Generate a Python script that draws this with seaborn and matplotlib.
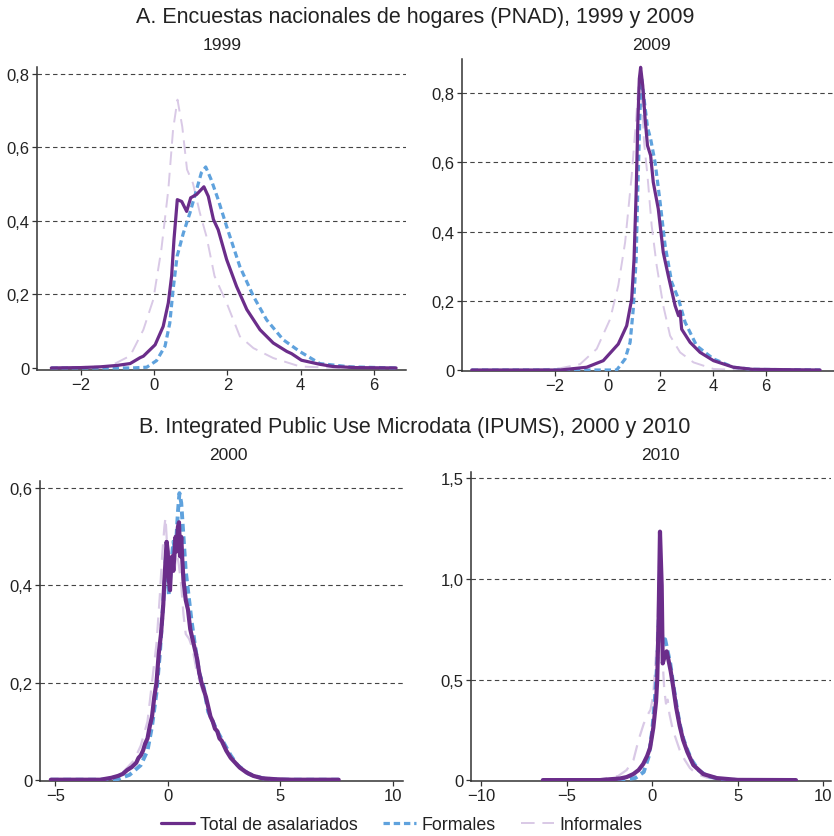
import numpy as np
import pandas as pd
import seaborn as sns
import matplotlib
matplotlib.use("Agg")
import matplotlib.pyplot as plt
from matplotlib.ticker import FuncFormatter
from matplotlib.lines import Line2D

# ---------------- DATA ----------------
series_names = ["Total de asalariados", "Formales", "Informales"]

# Panel A 1999
a99_total_x = [-2.8, -2.0, -1.47, -1.0, -0.65, -0.38, -0.29, 0.03, 0.25, 0.39, 0.48, 0.545, 0.635, 0.755, 0.89, 1.0, 1.16, 1.36, 1.48, 1.62, 1.75, 1.98, 2.25, 2.53, 2.89, 3.25, 3.62, 3.75, 4.02, 4.52, 4.88, 5.5, 6.6]
a99_total_y = [0.0, 0.001, 0.003, 0.007, 0.012, 0.028, 0.032, 0.063, 0.113, 0.177, 0.25, 0.35, 0.458, 0.453, 0.426, 0.463, 0.472, 0.493, 0.467, 0.404, 0.376, 0.295, 0.222, 0.159, 0.104, 0.068, 0.045, 0.039, 0.021, 0.01, 0.004, 0.001, 0.0]
a99_form_x = [-2.8, -1.5, -0.6, -0.2, 0.07, 0.3, 0.43, 0.52, 0.63, 0.8, 0.98, 1.16, 1.29, 1.41, 1.56, 1.75, 1.98, 2.34, 2.71, 3.07, 3.52, 3.97, 4.52, 5.34, 6.6]
a99_form_y = [0.0, 0.0, 0.0, 0.002, 0.02, 0.059, 0.122, 0.213, 0.304, 0.367, 0.422, 0.485, 0.531, 0.547, 0.512, 0.458, 0.385, 0.276, 0.195, 0.131, 0.077, 0.045, 0.012, 0.003, 0.0]
a99_inf_x = [-2.8, -1.2, -0.65, -0.29, -0.02, 0.2, 0.39, 0.52, 0.64, 0.77, 0.9, 1.06, 1.25, 1.43, 1.65, 1.98, 2.34, 2.71, 3.25, 3.98, 5.0, 6.6]
a99_inf_y = [0.0, 0.005, 0.033, 0.104, 0.186, 0.322, 0.485, 0.649, 0.73, 0.657, 0.54, 0.503, 0.422, 0.358, 0.25, 0.177, 0.086, 0.054, 0.027, 0.004, 0.0, 0.0]

# Panel A 2009
a09_total_x = [-5.17, -3.0, -1.81, -0.8, -0.17, 0.4, 0.72, 0.91, 1.0, 1.08, 1.14, 1.2, 1.25, 1.33, 1.42, 1.51, 1.63, 1.73, 1.92, 2.11, 2.3, 2.56, 2.69, 2.75, 2.81, 3.13, 3.51, 4.02, 4.78, 5.5, 8.07]
a09_total_y = [0.0, 0.0, 0.0, 0.008, 0.027, 0.075, 0.128, 0.205, 0.321, 0.514, 0.707, 0.841, 0.875, 0.822, 0.726, 0.649, 0.62, 0.543, 0.466, 0.34, 0.273, 0.186, 0.157, 0.17, 0.118, 0.08, 0.051, 0.027, 0.008, 0.002, 0.0]
a09_form_x = [-5.17, -1.0, 0.34, 0.66, 0.85, 0.97, 1.08, 1.14, 1.23, 1.29, 1.38, 1.51, 1.63, 1.8, 1.99, 2.18, 2.43, 2.69, 2.94, 3.38, 4.02, 4.78, 5.5, 8.07]
a09_form_y = [0.0, 0.0, 0.0, 0.032, 0.08, 0.176, 0.321, 0.514, 0.755, 0.841, 0.784, 0.702, 0.668, 0.6, 0.485, 0.36, 0.254, 0.205, 0.138, 0.07, 0.032, 0.008, 0.002, 0.0]
a09_inf_x = [-5.17, -3.0, -1.81, -1.05, -0.42, 0.09, 0.4, 0.66, 0.91, 1.08, 1.19, 1.29, 1.38, 1.51, 1.67, 1.86, 2.11, 2.37, 2.75, 3.26, 4.02, 5.0, 8.07]
a09_inf_y = [0.0, 0.0, 0.005, 0.017, 0.061, 0.147, 0.244, 0.369, 0.562, 0.726, 0.851, 0.793, 0.658, 0.562, 0.417, 0.302, 0.186, 0.099, 0.051, 0.022, 0.003, 0.0, 0.0]

# Panel B 2000
b00_total_x = [-5.2, -3.0, -2.5, -2.2, -2.0, -1.8, -1.6, -1.4, -1.3, -1.2, -1.1, -1.0, -0.9, -0.8, -0.7, -0.6, -0.5, -0.4, -0.3, -0.2, -0.15, -0.1, -0.05, 0.0, 0.05, 0.1, 0.15, 0.2, 0.25, 0.3, 0.35, 0.4, 0.45, 0.5, 0.55, 0.6, 0.65, 0.7, 0.8, 0.9, 1.0, 1.1, 1.2, 1.3, 1.4, 1.5, 1.6, 1.7, 1.8, 1.9, 2.0, 2.1, 2.2, 2.3, 2.4, 2.5, 2.6, 2.8, 3.0, 3.2, 3.5, 3.8, 4.2, 4.8, 5.5, 7.6]
b00_total_y = [0.0, 0.0, 0.004, 0.008, 0.012, 0.02, 0.026, 0.035, 0.045, 0.05, 0.06, 0.075, 0.085, 0.11, 0.13, 0.17, 0.2, 0.26, 0.3, 0.36, 0.41, 0.45, 0.49, 0.47, 0.41, 0.39, 0.44, 0.46, 0.43, 0.47, 0.5, 0.47, 0.52, 0.53, 0.46, 0.5, 0.45, 0.41, 0.37, 0.35, 0.31, 0.29, 0.27, 0.25, 0.22, 0.2, 0.185, 0.17, 0.15, 0.13, 0.12, 0.105, 0.1, 0.085, 0.08, 0.07, 0.06, 0.045, 0.035, 0.025, 0.015, 0.008, 0.003, 0.001, 0.0, 0.0]
b00_form_x = [-5.2, -2.3, -1.7, -1.2, -0.9, -0.7, -0.5, -0.35, -0.25, -0.15, -0.08, 0.0, 0.05, 0.15, 0.25, 0.35, 0.45, 0.52, 0.6, 0.7, 0.8, 0.9, 1.05, 1.2, 1.4, 1.6, 1.8, 2.0, 2.2, 2.5, 2.8, 3.1, 3.6, 4.2, 5.0, 7.6]
b00_form_y = [0.0, 0.0, 0.01, 0.03, 0.06, 0.11, 0.18, 0.26, 0.33, 0.4, 0.46, 0.42, 0.38, 0.44, 0.49, 0.47, 0.55, 0.59, 0.57, 0.5, 0.43, 0.39, 0.33, 0.28, 0.22, 0.19, 0.14, 0.12, 0.1, 0.075, 0.05, 0.03, 0.012, 0.003, 0.0, 0.0]
b00_inf_x = [-5.2, -3.0, -2.5, -2.0, -1.5, -1.2, -0.9, -0.7, -0.5, -0.35, -0.25, -0.15, -0.1, -0.05, 0.0, 0.1, 0.2, 0.3, 0.4, 0.5, 0.6, 0.7, 0.8, 0.95, 1.1, 1.3, 1.5, 1.7, 1.9, 2.2, 2.5, 2.8, 3.2, 3.7, 4.5, 7.6]
b00_inf_y = [0.0, 0.0, 0.005, 0.015, 0.04, 0.07, 0.12, 0.2, 0.28, 0.38, 0.46, 0.52, 0.54, 0.5, 0.44, 0.41, 0.46, 0.43, 0.47, 0.44, 0.4, 0.34, 0.3, 0.29, 0.27, 0.22, 0.19, 0.16, 0.13, 0.1, 0.07, 0.045, 0.025, 0.01, 0.002, 0.0]

# Panel B 2010
b10_total_x = [-6.4, -3.06, -2.5, -1.89, -1.5, -1.11, -0.8, -0.53, -0.3, -0.13, 0.06, 0.22, 0.29, 0.37, 0.45, 0.55, 0.61, 0.74, 0.84, 0.94, 1.08, 1.23, 1.4, 1.6, 1.8, 2.05, 2.4, 2.98, 3.77, 5.0, 8.4]
b10_total_y = [0.0, 0.0, 0.004, 0.008, 0.015, 0.03, 0.05, 0.08, 0.12, 0.16, 0.26, 0.39, 0.5, 0.8, 1.235, 0.967, 0.58, 0.62, 0.64, 0.6, 0.54, 0.46, 0.36, 0.27, 0.2, 0.14, 0.075, 0.03, 0.01, 0.001, 0.0]
b10_form_x = [-6.4, -2.0, -1.0, -0.5, -0.2, 0.0, 0.15, 0.3, 0.4, 0.45, 0.5, 0.6, 0.75, 0.9, 1.05, 1.2, 1.4, 1.6, 1.8, 2.0, 2.3, 2.7, 3.2, 4.0, 5.0, 8.4]
b10_form_y = [0.0, 0.0, 0.01, 0.04, 0.12, 0.25, 0.4, 0.6, 0.85, 1.05, 0.85, 0.68, 0.7, 0.64, 0.58, 0.49, 0.38, 0.28, 0.21, 0.16, 0.1, 0.05, 0.02, 0.006, 0.0, 0.0]
b10_inf_x = [-6.4, -3.0, -2.0, -1.5, -1.1, -0.8, -0.5, -0.3, -0.1, 0.05, 0.2, 0.3, 0.4, 0.5, 0.6, 0.7, 0.8, 0.9, 1.0, 1.2, 1.4, 1.6, 1.9, 2.2, 2.6, 3.2, 4.0, 8.4]
b10_inf_y = [0.0, 0.005, 0.02, 0.05, 0.1, 0.2, 0.28, 0.32, 0.35, 0.42, 0.6, 0.75, 1.1, 0.8, 0.6, 0.45, 0.38, 0.4, 0.33, 0.25, 0.2, 0.15, 0.1, 0.06, 0.03, 0.012, 0.003, 0.0]

panel_titles = ["1999", "2009", "2000", "2010"]
title_a = "A. Encuestas nacionales de hogares (PNAD), 1999 y 2009"
title_b = "B. Integrated Public Use Microdata (IPUMS), 2000 y 2010"

a99_xticks = [-2, 0, 2, 4, 6]
a09_xticks = [-2, 0, 2, 4, 6]
b00_xticks = [-5, 0, 5, 10]
b10_xticks = [-10, -5, 0, 5, 10]
a_yticks = [0, 0.2, 0.4, 0.6, 0.8]
b00_yticks = [0, 0.2, 0.4, 0.6]
b10_yticks = [0, 0.5, 1.0, 1.5]

# ---------------- STYLE ----------------
sns.set_theme(style="white")
plt.rcParams["font.family"] = ["Liberation Sans", "DejaVu Sans"]
plt.rcParams["axes.unicode_minus"] = True

C_TOTAL = "#6B2D8A"
C_FORM = "#5FA2DD"
C_INF = "#D9C9E6"
styles = {
    "Total de asalariados": dict(color=C_TOTAL, linewidth=2.3, linestyle="-", zorder=4),
    "Formales": dict(color=C_FORM, linewidth=2.3, linestyle=(0, (2.0, 1.2)), zorder=3),
    "Informales": dict(color=C_INF, linewidth=1.4, linestyle=(0, (7, 4)), zorder=2),
}
b_widths = {"Total de asalariados": 3.0, "Formales": 2.8, "Informales": 1.6}

W, H = 834, 837
fig = plt.figure(figsize=(W / 100, H / 100), dpi=100)


def add_ax(left, right, top, bottom):
    return fig.add_axes([left / W, 1 - bottom / H, (right - left) / W, (bottom - top) / H])


def yfmt(v, pos):
    if abs(v) < 1e-9:
        return "0"
    return f"{v:.1f}".replace(".", ",")


def xfmt(v, pos):
    return f"{int(round(v))}".replace("-", "\u2212")


panels = [
    (add_ax(37, 406, 67.6, 370.8), (-3.19, 6.87), (-0.005, 0.82), a99_xticks, a_yticks,
     [(a99_total_x, a99_total_y), (a99_form_x, a99_form_y), (a99_inf_x, a99_inf_y)], False),
    (add_ax(462, 834, 60, 371.7), (-5.54, 8.6), (-0.002, 0.899), a09_xticks, a_yticks,
     [(a09_total_x, a09_total_y), (a09_form_x, a09_form_y), (a09_inf_x, a09_inf_y)], False),
    (add_ax(40, 403, 482, 781.7), (-5.68, 10.46), (-0.002, 0.615), b00_xticks, b00_yticks,
     [(b00_total_x, b00_total_y), (b00_form_x, b00_form_y), (b00_inf_x, b00_inf_y)], True),
    (add_ax(471, 831, 472.7, 781.7), (-10.6, 10.45), (-0.003, 1.533), b10_xticks, b10_yticks,
     [(b10_total_x, b10_total_y), (b10_form_x, b10_form_y), (b10_inf_x, b10_inf_y)], True),
]

for ax, xl, yl, xt, yt, curves, is_b in panels:
    for name, (xs, ys) in reversed(list(zip(series_names, curves))):
        df = pd.DataFrame({"x": xs, "y": ys})
        kw = dict(styles[name])
        if is_b:
            kw["linewidth"] = b_widths[name]
        sns.lineplot(data=df, x="x", y="y", ax=ax, estimator=None, sort=False,
                     label=name, legend=False, **kw)
    ax.set_xlim(*xl)
    ax.set_ylim(*yl)
    ax.set_xticks(xt)
    ax.set_yticks(yt)
    ax.xaxis.set_major_formatter(FuncFormatter(xfmt))
    ax.yaxis.set_major_formatter(FuncFormatter(yfmt))
    ax.set_xlabel("")
    ax.set_ylabel("")
    for s in ["top", "right"]:
        ax.spines[s].set_visible(False)
    for s in ["left", "bottom"]:
        ax.spines[s].set_color("#333333")
        ax.spines[s].set_linewidth(1.1)
    ax.tick_params(axis="both", direction="out", length=3.5, width=0.9, color="#333333",
                   labelsize=12, labelcolor="#222222", pad=2, bottom=True, left=True)
    ax.grid(axis="y", color="#444444", linestyle=(0, (4, 3)), linewidth=0.8)
    ax.set_axisbelow(True)
    ax.get_ygridlines()[0].set_visible(False)

# Titles
fig.text(415 / W, 1 - 18 / H, title_a, ha="center", va="center", fontsize=15.5, color="#222222")
fig.text(415 / W, 1 - 428 / H, title_b, ha="center", va="center", fontsize=15.5, color="#222222")
for t, (cx, cy) in zip(panel_titles, [(222, 46), (651, 46), (228, 456), (660, 456)]):
    fig.text(cx / W, 1 - cy / H, t, ha="center", va="center", fontsize=12.5, color="#222222")

# Legend
leg_handles = [Line2D([0], [0], **{k: v for k, v in styles[n].items() if k != "zorder"}) for n in series_names]
fig.legend(leg_handles, series_names, loc="center", bbox_to_anchor=(402 / W, 1 - 826 / H),
           ncol=3, frameon=False, fontsize=12.8, handlelength=1.85, columnspacing=1.4,
           handletextpad=0.34, labelcolor="#222222")

fig.savefig("out.png", dpi=100)
